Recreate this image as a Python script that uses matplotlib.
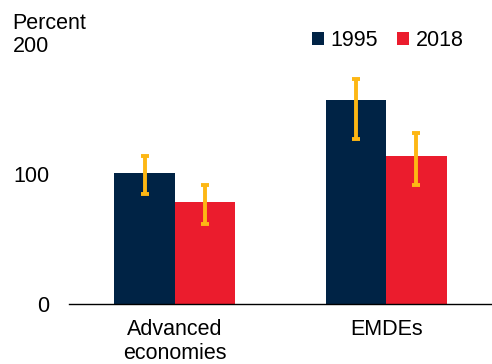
import matplotlib
matplotlib.use("Agg")
import matplotlib.pyplot as plt
from matplotlib.patches import Patch
import numpy as np

plt.rcParams['font.family'] = ['Liberation Sans', 'DejaVu Sans']

categories = ["Advanced\neconomies", "EMDEs"]
years = ["1995", "2018"]
values_1995 = [100.5, 156.7]
values_2018 = [78.2, 113.6]
low_1995 = [84.6, 126.9]
high_1995 = [113.8, 172.8]
low_2018 = [61.5, 91.5]
high_2018 = [91.5, 131.5]
yticks = [0, 100, 200]

navy = "#002345"
red = "#EB1C2D"
gold = "#FDB714"
fs = 15.5

fig = plt.figure(figsize=(4.92, 3.64), dpi=100)
ax = fig.add_axes([0.1402, 0.1648, 0.8598, 0.7143])

x = np.arange(len(categories))
w = 0.285

series = [
    (values_1995, low_1995, high_1995, navy, -w / 2),
    (values_2018, low_2018, high_2018, red, w / 2),
]
for vals, lo, hi, col, off in series:
    vals = np.array(vals)
    ax.bar(x + off, vals, width=w, color=col, zorder=2)
    yerr = np.array([vals - np.array(lo), np.array(hi) - vals])
    ax.errorbar(x + off, vals, yerr=yerr, fmt="none", ecolor=gold,
                elinewidth=2.8, capsize=2.6, capthick=2.8, zorder=3)

ax.set_xlim(-0.5, 1.5)
ax.set_ylim(0, 200)
ax.set_yticks(yticks)
ax.set_yticklabels([str(t) for t in yticks], fontsize=fs)
ax.set_xticks(x)
ax.set_xticklabels(categories, fontsize=fs, linespacing=1.15)
ax.tick_params(axis="y", length=0, pad=14)
ax.tick_params(axis="x", length=0, pad=11)
for s in ["top", "right", "left"]:
    ax.spines[s].set_visible(False)
ax.spines["bottom"].set_linewidth(1.0)
ax.spines["bottom"].set_color("black")

fig.text(0.024, 0.935, "Percent", fontsize=fs, ha="left", va="center")

handles = [Patch(facecolor=navy), Patch(facecolor=red)]
fig.legend(handles, years, loc="center", bbox_to_anchor=(0.788, 0.888),
           ncol=2, frameon=False, fontsize=fs, handlelength=0.55,
           handleheight=0.55, handletextpad=0.3, columnspacing=0.9,
           borderpad=0, borderaxespad=0)

fig.savefig("out.png", dpi=100)
